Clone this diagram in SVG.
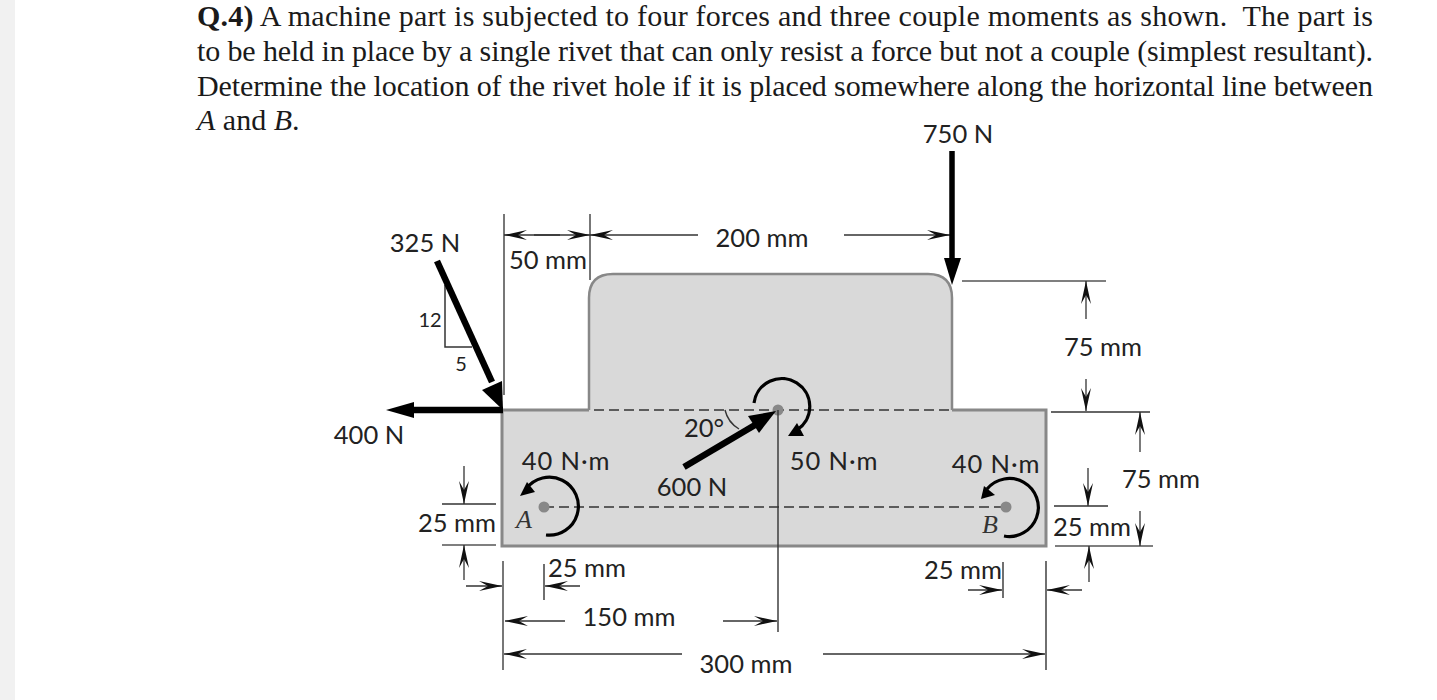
<svg xmlns="http://www.w3.org/2000/svg" width="1437" height="700" viewBox="0 0 1437 700">
<style>
.q{font-family:"Liberation Serif",serif;font-size:30px;fill:#1a1a1a;white-space:pre}
.l{font-family:Lato,"Open Sans",sans-serif;font-size:25.5px;fill:#222}
.w{letter-spacing:.9px}
.s{font-family:Lato,"Open Sans",sans-serif;font-size:20px;fill:#222}
.i{font-family:"Liberation Serif",serif;font-style:italic;font-size:26px;fill:#333}
.d{stroke:#333;stroke-width:1.4;fill:none}
.e{stroke:#555;stroke-width:1.6;fill:none}
.da{stroke:#333;stroke-width:1.3;fill:none;marker-end:url(#ah)}
.f{stroke:#000;stroke-width:6.5;fill:none}
.m{stroke:#000;stroke-width:3.2;fill:none}
.dash{stroke:#333;stroke-width:1.4;stroke-dasharray:10 5;fill:none}
.dot{fill:#888}
</style>
<defs>
<marker id="ah" markerUnits="userSpaceOnUse" markerWidth="26" markerHeight="14" refX="23" refY="7" orient="auto"><path d="M0 2 L23 7 L0 12 L9 7 Z" fill="#111"/></marker>
</defs>
<rect x="0" y="0" width="1437" height="700" fill="#fff"/>
<rect x="0" y="0" width="15" height="700" fill="#f1f1f1"/>
<g id="question">
<text class="q" x="197" y="26" textLength="1176" lengthAdjust="spacing"><tspan font-weight="bold">Q.4)</tspan> A machine part is subjected to four forces and three couple moments as shown.  The part is</text>
<text class="q" x="197" y="61" textLength="1176" lengthAdjust="spacing">to be held in place by a single rivet that can only resist a force but not a couple (simplest resultant).</text>
<text class="q" x="197" y="96" textLength="1176" lengthAdjust="spacing">Determine the location of the rivet hole if it is placed somewhere along the horizontal line between</text>
<text class="q" x="197" y="130"><tspan font-style="italic">A</tspan> and <tspan font-style="italic">B</tspan>.</text>
</g>
<g id="machine-part">
<path d="M502 546 V410 H589 V298 Q589 274 613 274 H928 Q952 274 952 298 V410 H1046 V546 Z" fill="#d9d9d9" stroke="none"/>
<path d="M589 410 V298 Q589 274 613 274 H928 Q952 274 952 298 V410" fill="none" stroke="#888" stroke-width="2.5"/>
<path d="M502 410 H589 M952 410 H1046 V546 H502 V410" fill="none" stroke="#888" stroke-width="3"/>
<path class="dash" d="M594 410 H952"/>
<path class="dash" d="M544 507 H1006"/>
</g>
<g id="point-a"><circle class="dot" cx="544" cy="507" r="5.5"/><text class="i" x="516" y="528">A</text></g>
<g id="point-b"><circle class="dot" cx="1006" cy="507" r="5.5"/><text class="i" x="982" y="533">B</text></g>
<g id="point-c"><circle class="dot" cx="778" cy="410" r="5.5"/></g>
<g id="connectors">
<path class="e" d="M504 214 V395"/>
<path class="e" d="M590 214 V280"/>
<path class="da" d="M560 235 H504"/><path class="da" d="M534 235 H590"/>
<path class="da" d="M698 235 H590"/><path class="da" d="M844 235 H950"/>
<path class="e" d="M962 281 H1106"/>
<path class="da" d="M1086 319 V281"/>
<path class="da" d="M1086 379 V411"/>
<path class="d" d="M1051 412 H1150"/>
<path class="da" d="M1140 452 V412"/>
<path class="da" d="M1088 468 V506"/>
<path class="d" d="M1054 506 H1108"/>
<path class="e" d="M1055 546 H1153"/>
<path class="da" d="M1140 511 V546"/>
<path class="da" d="M1089 582 V546"/>
<path class="d" d="M442 504 H496"/>
<path class="e" d="M442 545 H496"/>
<path class="da" d="M464 466 V504"/>
<path class="da" d="M464 580 V545"/>
<path class="e" d="M503 561 V670"/>
<path class="d" d="M544 564 V600"/>
<path class="da" d="M466 586 H502"/>
<path class="da" d="M580 586 H545"/>
<path class="da" d="M565 621 H505"/>
<path class="da" d="M723 621 H777"/>
<path class="d" d="M778 410 V632"/>
<path class="da" d="M682 654 H504"/>
<path class="da" d="M823 654 H1045"/>
<path class="d" d="M1046 561 V670"/>
<path class="d" d="M1003 562 V598"/>
<path class="da" d="M968 590 H1002"/>
<path class="da" d="M1082 590 H1047"/>
<path d="M445 285 V347 H472" fill="none" stroke="#333" stroke-width="1.5"/>
</g>
<g id="force-750"><path class="f" style="stroke-width:5.5" d="M952 151 V262"/><path d="M944 258 H961 L952 285 Z" fill="#000"/></g>
<g id="force-325"><path class="f" d="M437 261 L492 382"/><path d="M482 390 L502 381 L503 410 Z" fill="#000"/></g>
<g id="force-400"><path class="f" d="M412 410 H503"/><path d="M386 410 L414 402 V418 Z" fill="#000"/></g>
<g id="force-600"><path class="f" d="M684 467 L755 425"/><path d="M748 416 L759 433 L776 411 Z" fill="#000"/></g>
<g id="moment-a"><path class="m" d="M546 535 A29 29 0 1 0 526 489"/><path d="M520 496 L527 482 L535 492 Z" fill="#000"/></g>
<g id="moment-b"><path class="m" d="M1004 536 A29 29 0 1 0 987 489"/><path d="M981 499 L984 486 L995 495 Z" fill="#000"/></g>
<g id="moment-c"><path class="m" d="M754 403 A28 28 0 1 1 797 430"/><path d="M788 436 L804 436 L797 423 Z" fill="#000"/></g>
<path class="d" d="M725 410 A30 30 0 0 0 739 429"/>
<g id="labels">
<text class="l" x="958" y="143" text-anchor="middle">750 N</text>
<text class="l" x="425" y="252" text-anchor="middle">325 N</text>
<text class="l" x="369" y="444" text-anchor="middle">400 N</text>
<text class="l" x="548" y="269" text-anchor="middle">50 mm</text>
<text class="l" x="762" y="247" text-anchor="middle">200 mm</text>
<text class="l" x="1103" y="356" text-anchor="middle">75 mm</text>
<text class="l" x="1161" y="488" text-anchor="middle">75 mm</text>
<text class="l" x="1092" y="536" text-anchor="middle">25 mm</text>
<text class="l" x="457" y="532" text-anchor="middle">25 mm</text>
<text class="l" x="587" y="577" text-anchor="middle">25 mm</text>
<text class="l" x="963" y="579" text-anchor="middle">25 mm</text>
<text class="l" x="629" y="626" text-anchor="middle">150 mm</text>
<text class="l" x="746" y="673" text-anchor="middle">300 mm</text>
<text class="l w" x="566" y="470" text-anchor="middle">40 N·m</text>
<text class="l w" x="996" y="473" text-anchor="middle">40 N·m</text>
<text class="l w" x="834" y="470" text-anchor="middle">50 N·m</text>
<text class="l" x="692" y="496" text-anchor="middle">600 N</text>
<text class="l" x="704" y="437" text-anchor="middle">20°</text>
<text class="s" x="430" y="327" text-anchor="middle">12</text>
<text class="s" x="461" y="371" text-anchor="middle">5</text>
</g>
</svg>
